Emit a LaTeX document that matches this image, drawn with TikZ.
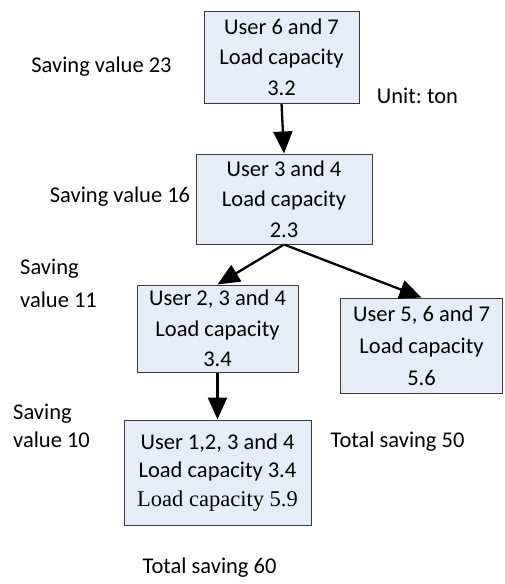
\documentclass[tikz,border=0pt]{standalone}
\usepackage{fontspec}
\setmainfont{Carlito}
\newfontfamily\timesfont{Liberation Serif}
\usetikzlibrary{arrows.meta}
\definecolor{boxfill}{HTML}{E7EDF8}
\definecolor{boxline}{HTML}{3A3A3A}
\tikzset{
  box/.style={draw=boxline, line width=1pt, fill=boxfill, inner sep=0pt, align=center, anchor=center},
  lbl/.style={inner sep=0pt, anchor=base},
  lbll/.style={inner sep=0pt, anchor=base west, align=left},
  arr/.style={line width=2.3pt, -{Triangle[length=22pt,width=19pt]}, shorten <=0.5pt}
}
\begin{document}
\frenchspacing
\begin{tikzpicture}[x=1pt,y=-1pt]
\useasboundingbox (0,0) rectangle (504,584);
\fontsize{22.5}{30.5}\selectfont
% boxes
\node[box, minimum width=155pt, minimum height=92pt] (b1) at (281.5,57) {User 6 and 7\\Load capacity\\3.2};
\node[box, minimum width=176pt, minimum height=90pt] (b2) at (284,199) {User 3 and 4\\Load capacity\\2.3};
\node[box, minimum width=161pt, minimum height=87pt] (b3) at (217.5,328.5) {User 2, 3 and 4\\Load capacity\\3.4};
\node[box, minimum width=162pt, minimum height=95pt, font=\fontsize{22.5}{32}\selectfont] (b4) at (421.5,345.5) {User 5, 6 and 7\\Load capacity\\5.6};
\node[box, minimum width=187pt, minimum height=105pt, font=\fontsize{22.5}{28.5}\selectfont] (b5) at (217.5,472.5) {User 1,2, 3 and 4\\Load capacity 3.4\\{\timesfont Load capacity 5.9}};
% arrows
\draw[arr] (b1.south) -- (b2.north);
\draw[arr] (b2.south) -- (b3.north);
\draw[arr] (b2.south) -- (b4.north);
\draw[arr] (b3.south) -- (b5.north);
% labels
\node[lbl] (s23) at (101.5,72) {Saving value 23};
\node[lbl] (unit) at (417.5,103) {Unit: ton};
\node[lbl] (s16) at (120,202) {Saving value 16};
\node[lbll, font=\fontsize{22.5}{33}\selectfont] (s11) at (20,307) {Saving\\value 11};
\node[lbll, font=\fontsize{22.5}{28}\selectfont] (s10) at (13,447) {Saving\\value 10};
\node[lbl] (t50) at (397.5,447) {Total saving 50};
\node[lbl] (t60) at (209.5,573) {Total saving 60};
\end{tikzpicture}
\end{document}
